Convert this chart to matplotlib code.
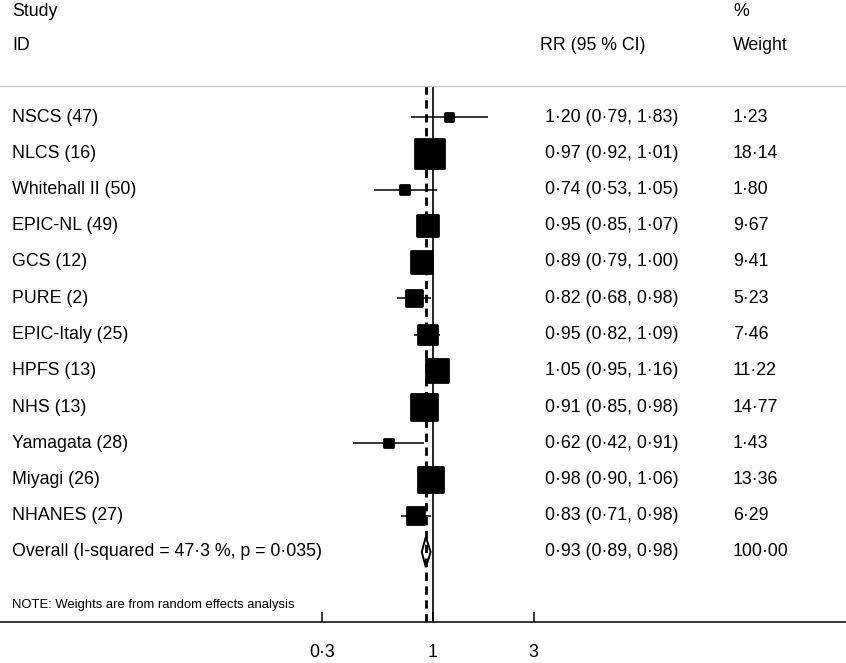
import numpy as np
import matplotlib.pyplot as plt
import matplotlib.transforms as mtransforms

plt.rcParams['font.family'] = ['Liberation Sans', 'DejaVu Sans']

studies = ['NSCS (47)', 'NLCS (16)', 'Whitehall II (50)', 'EPIC-NL (49)', 'GCS (12)',
           'PURE (2)', 'EPIC-Italy (25)', 'HPFS (13)', 'NHS (13)', 'Yamagata (28)',
           'Miyagi (26)', 'NHANES (27)']
rr     = [1.20, 0.97, 0.74, 0.95, 0.89, 0.82, 0.95, 1.05, 0.91, 0.62, 0.98, 0.83]
lower  = [0.79, 0.92, 0.53, 0.85, 0.79, 0.68, 0.82, 0.95, 0.85, 0.42, 0.90, 0.71]
upper  = [1.83, 1.01, 1.05, 1.07, 1.00, 0.98, 1.09, 1.16, 0.98, 0.91, 1.06, 0.98]
weight = [1.23, 18.14, 1.80, 9.67, 9.41, 5.23, 7.46, 11.22, 14.77, 1.43, 13.36, 6.29]

overall_label = 'Overall (I-squared = 47\u00b73 %, p = 0\u00b7035)'
overall = (0.93, 0.89, 0.98)
overall_weight = 100.00

xticks = [0.3, 1, 3]
xticklabels = ['0\u00b73', '1', '3']


def fmt(v, nd=2):
    return f'{v:.{nd}f}'.replace('.', '\u00b7')


W, H = 846, 663
fig = plt.figure(figsize=(W / 100, H / 100), dpi=100)
ax = fig.add_axes([0, (H - 622) / H, 1, (622 - 86) / H])

# log x axis, pixel position = 432.5 + 212*log10(x)
ax.set_xscale('log')
ax.set_xlim(10 ** (-432.5 / 212), 10 ** ((W - 432.5) / 212))
row0, step = 117, 36.25
ax.set_ylim((622 - row0) / step, (86 - row0) / step)

for s in ['left', 'right']:
    ax.spines[s].set_visible(False)
ax.spines['top'].set_color('#c8c8c8')
ax.spines['top'].set_linewidth(1.0)
ax.spines['bottom'].set_linewidth(1.1)
ax.set_yticks([])
ax.set_xticks(xticks)
ax.set_xticklabels(xticklabels, fontsize=12.8)
ax.minorticks_off()
ax.tick_params(axis='x', direction='in', length=7.2, width=1.1, pad=16)

n = len(studies)
rows = np.arange(n)

ax.axvline(1, color='black', lw=1.2, zorder=1)
ax.axvline(overall[0], color='black', lw=2.0, ls=(0, (3, 2)), zorder=1)

ax.hlines(rows, lower, upper, color='black', lw=1.1, zorder=2)
ax.scatter(rr, rows, marker='s', s=np.array(weight) * 24.3, color='black',
           edgecolor='black', linewidths=2, zorder=3)

# overall diamond
yo = n
h = 0.42
est, lo, hi = overall
ax.fill([lo, est, hi, est, lo], [yo, yo - h, yo, yo + h, yo], facecolor='none',
        edgecolor='black', lw=1.4, zorder=3)

tr = mtransforms.blended_transform_factory(ax.transAxes, ax.transData)
fs = 12.8
for i in range(n):
    ax.text(12 / W, i, studies[i], transform=tr, fontsize=fs, va='center', ha='left')
    ax.text(545 / W, i, f'{fmt(rr[i])} ({fmt(lower[i])}, {fmt(upper[i])})',
            transform=tr, fontsize=fs, va='center', ha='left')
    ax.text(733 / W, i, fmt(weight[i]), transform=tr, fontsize=fs, va='center', ha='left')

ax.text(12 / W, yo, overall_label, transform=tr, fontsize=fs, va='center', ha='left')
ax.text(545 / W, yo, f'{fmt(est)} ({fmt(lo)}, {fmt(hi)})', transform=tr,
        fontsize=fs, va='center', ha='left')
ax.text(733 / W, yo, fmt(overall_weight), transform=tr, fontsize=fs, va='center', ha='left')

ax.text(12 / W, (605 - row0) / step, 'NOTE: Weights are from random effects analysis',
        transform=tr, fontsize=9.4, va='center', ha='left')

# header
fig.text(12 / W, 1 - 12 / H, 'Study', fontsize=fs, va='center', ha='left')
fig.text(733 / W, 1 - 12 / H, '%', fontsize=fs, va='center', ha='left')
fig.text(12 / W, 1 - 45 / H, 'ID', fontsize=fs, va='center', ha='left')
fig.text(540 / W, 1 - 45 / H, 'RR (95 % CI)', fontsize=fs, va='center', ha='left')
fig.text(733 / W, 1 - 45 / H, 'Weight', fontsize=fs, va='center', ha='left')

fig.savefig('out.png', dpi=100)
